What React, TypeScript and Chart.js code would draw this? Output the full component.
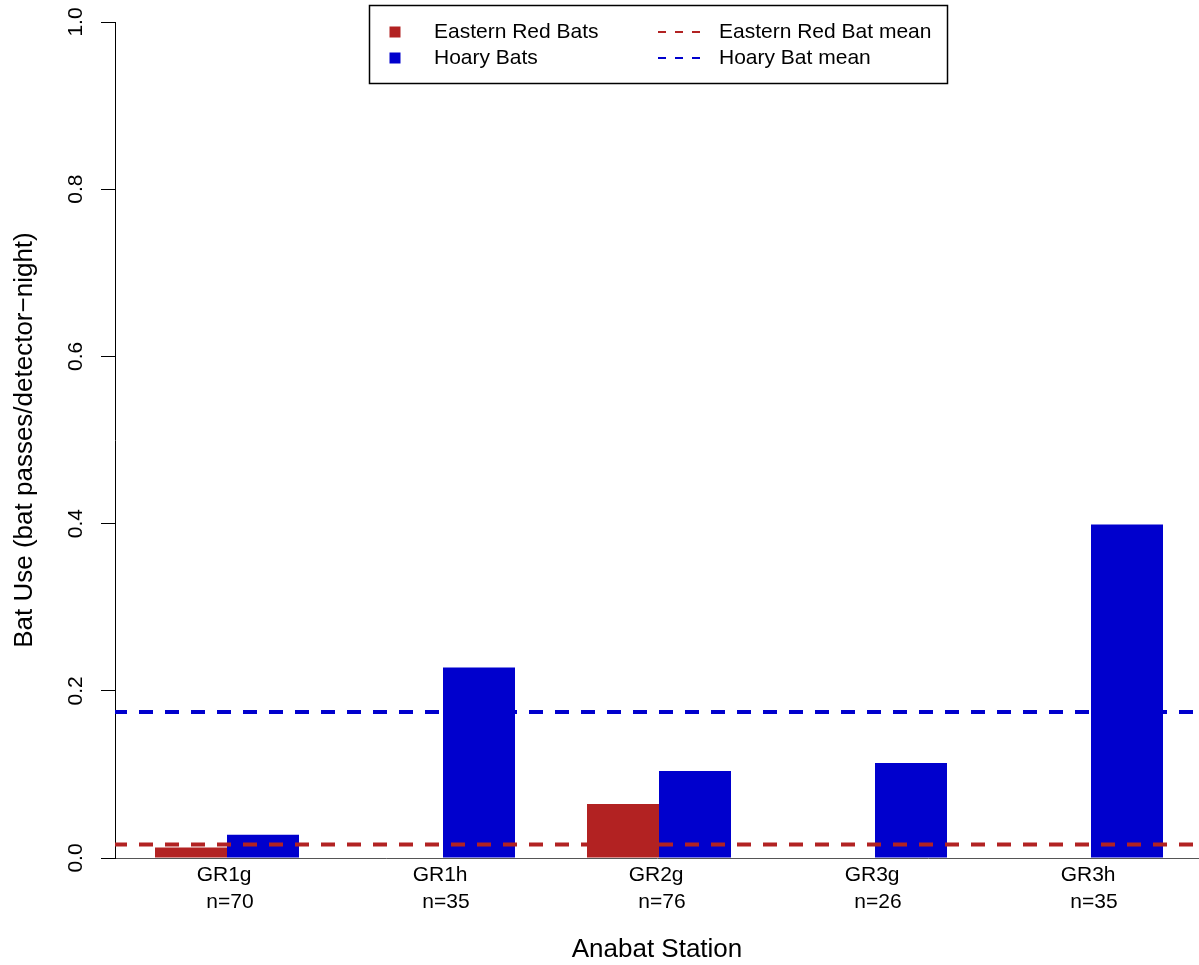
import React, { useEffect, useRef } from "react";
import { Chart, registerables } from "chart.js";

Chart.register(...registerables);

const FONT = '"Liberation Sans", Arial, Helvetica, sans-serif';

const stations = ["GR1g", "GR1h", "GR2g", "GR3g", "GR3h"];
const nightCounts = [70, 35, 76, 26, 35];
const easternRedUse = [0.0126, 0, 0.0646, 0, 0];
const hoaryUse = [0.0279, 0.2279, 0.104, 0.1136, 0.399];
const seriesLabels = ["Eastern Red Bats", "Hoary Bats"];
const seriesColors = ["#B22222", "#0000CD"];
const meanLabels = ["Eastern Red Bat mean", "Hoary Bat mean"];
const meanValues = [0.016, 0.1746];
const yTickValues = [0, 0.2, 0.4, 0.6, 0.8, 1.0];
const yTickLabels = ["0.0", "0.2", "0.4", "0.6", "0.8", "1.0"];
const xTitle = "Anabat Station";
const yTitle = "Bat Use (bat passes/detector\u2212night)";

const shiftPlugin = {
  id: "shiftX",
  afterLayout(chart: any) {
    const xs = chart.scales.x;
    xs._startPixel = chart.chartArea.left + 4;
    xs._length = chart.chartArea.right - xs._startPixel;
  },
};

const meanLinesPlugin = {
  id: "meanLines",
  afterDatasetsDraw(chart: any) {
    const { ctx, chartArea, scales } = chart;
    meanValues.forEach((m, i) => {
      const y = scales.y.getPixelForValue(m);
      ctx.save();
      ctx.setLineDash([14, 12]);
      ctx.lineDashOffset = 2;
      ctx.lineWidth = 4;
      ctx.strokeStyle = seriesColors[i];
      ctx.beginPath();
      ctx.moveTo(chartArea.left, y);
      ctx.lineTo(chartArea.right, y);
      ctx.stroke();
      ctx.restore();
    });
  },
};

const legendPlugin = {
  id: "boxLegend",
  afterDraw(chart: any) {
    const ctx = chart.ctx;
    ctx.save();
    ctx.strokeStyle = "#000";
    ctx.lineWidth = 1.5;
    ctx.strokeRect(369.5, 5.5, 578, 78);
    ctx.font = `21px ${FONT}`;
    ctx.textBaseline = "middle";
    ctx.textAlign = "left";
    const rows = [32, 58];
    rows.forEach((ry, i) => {
      ctx.fillStyle = seriesColors[i];
      ctx.fillRect(389.5, ry - 5.5, 11, 11);
      ctx.fillStyle = "#000";
      ctx.fillText(seriesLabels[i], 434, ry);
      ctx.save();
      ctx.strokeStyle = seriesColors[i];
      ctx.lineWidth = 2;
      ctx.setLineDash([8, 9]);
      ctx.beginPath();
      ctx.moveTo(658, ry);
      ctx.lineTo(700, ry);
      ctx.stroke();
      ctx.restore();
      ctx.fillStyle = "#000";
      ctx.fillText(meanLabels[i], 719, ry);
    });
    ctx.restore();
  },
};

export default function App() {
  const ref = useRef<HTMLCanvasElement>(null);
  useEffect(() => {
    Chart.defaults.font.family = FONT;
    const chart = new Chart(ref.current as HTMLCanvasElement, {
      type: "bar",
      data: {
        labels: stations.map((s, i) => [s + " ", " n=" + nightCounts[i]]),
        datasets: [
          {
            label: seriesLabels[0],
            data: easternRedUse,
            backgroundColor: seriesColors[0],
            borderWidth: 0,
            categoryPercentage: 2 / 3,
            barPercentage: 1,
          },
          {
            label: seriesLabels[1],
            data: hoaryUse,
            backgroundColor: seriesColors[1],
            borderWidth: 0,
            categoryPercentage: 2 / 3,
            barPercentage: 1,
          },
        ],
      },
      options: {
        responsive: false,
        devicePixelRatio: 1,
        animation: false,
        layout: { padding: { top: 22, left: 0, right: 0, bottom: 0 } },
        plugins: { legend: { display: false }, tooltip: { enabled: false } },
        scales: {
          x: {
            type: "category",
            offset: true,
            grid: { display: false, drawTicks: false },
            border: { display: true, color: "#555", width: 1 },
            ticks: {
              color: "#000",
              font: { size: 21, lineHeight: 1.29 },
              padding: 4,
              minRotation: 0,
              maxRotation: 0,
              autoSkip: false,
            },
            title: {
              display: true,
              text: xTitle,
              color: "#000",
              font: { size: 26 },
              padding: { top: 0, bottom: 0 },
            },
            afterFit: (s: any) => {
              s.height = 107;
              s.paddingLeft = 0;
              s.paddingRight = 0;
            },
          },
          y: {
            min: 0,
            max: 1,
            afterBuildTicks: (s: any) => {
              s.ticks = yTickValues.map((v) => ({ value: v }));
            },
            ticks: {
              callback: (_v: any, i: number) => yTickLabels[i],
              minRotation: 90,
              maxRotation: 90,
              crossAlign: "center",
              padding: 10,
              color: "#000",
              font: { size: 21 },
            },
            grid: {
              drawOnChartArea: false,
              drawTicks: true,
              tickLength: 14,
              color: "#000",
              lineWidth: 1,
            },
            border: { display: true, color: "#000", width: 1 },
            title: {
              display: true,
              text: yTitle,
              color: "#000",
              font: { size: 26 },
              padding: { top: 9, bottom: 0 },
            },
            afterFit: (s: any) => {
              s.width = 115;
              s.paddingTop = 0;
              s.paddingBottom = 0;
            },
          },
        },
      },
      plugins: [shiftPlugin, meanLinesPlugin, legendPlugin],
    } as any);
    return () => chart.destroy();
  }, []);
  return (
    <div
      style={{
        position: "fixed",
        left: 0,
        top: 0,
        width: 1199,
        height: 965,
        background: "#fff",
      }}
    >
      <canvas
        ref={ref}
        width={1199}
        height={965}
        style={{ display: "block", width: 1199, height: 965 }}
      />
    </div>
  );
}
